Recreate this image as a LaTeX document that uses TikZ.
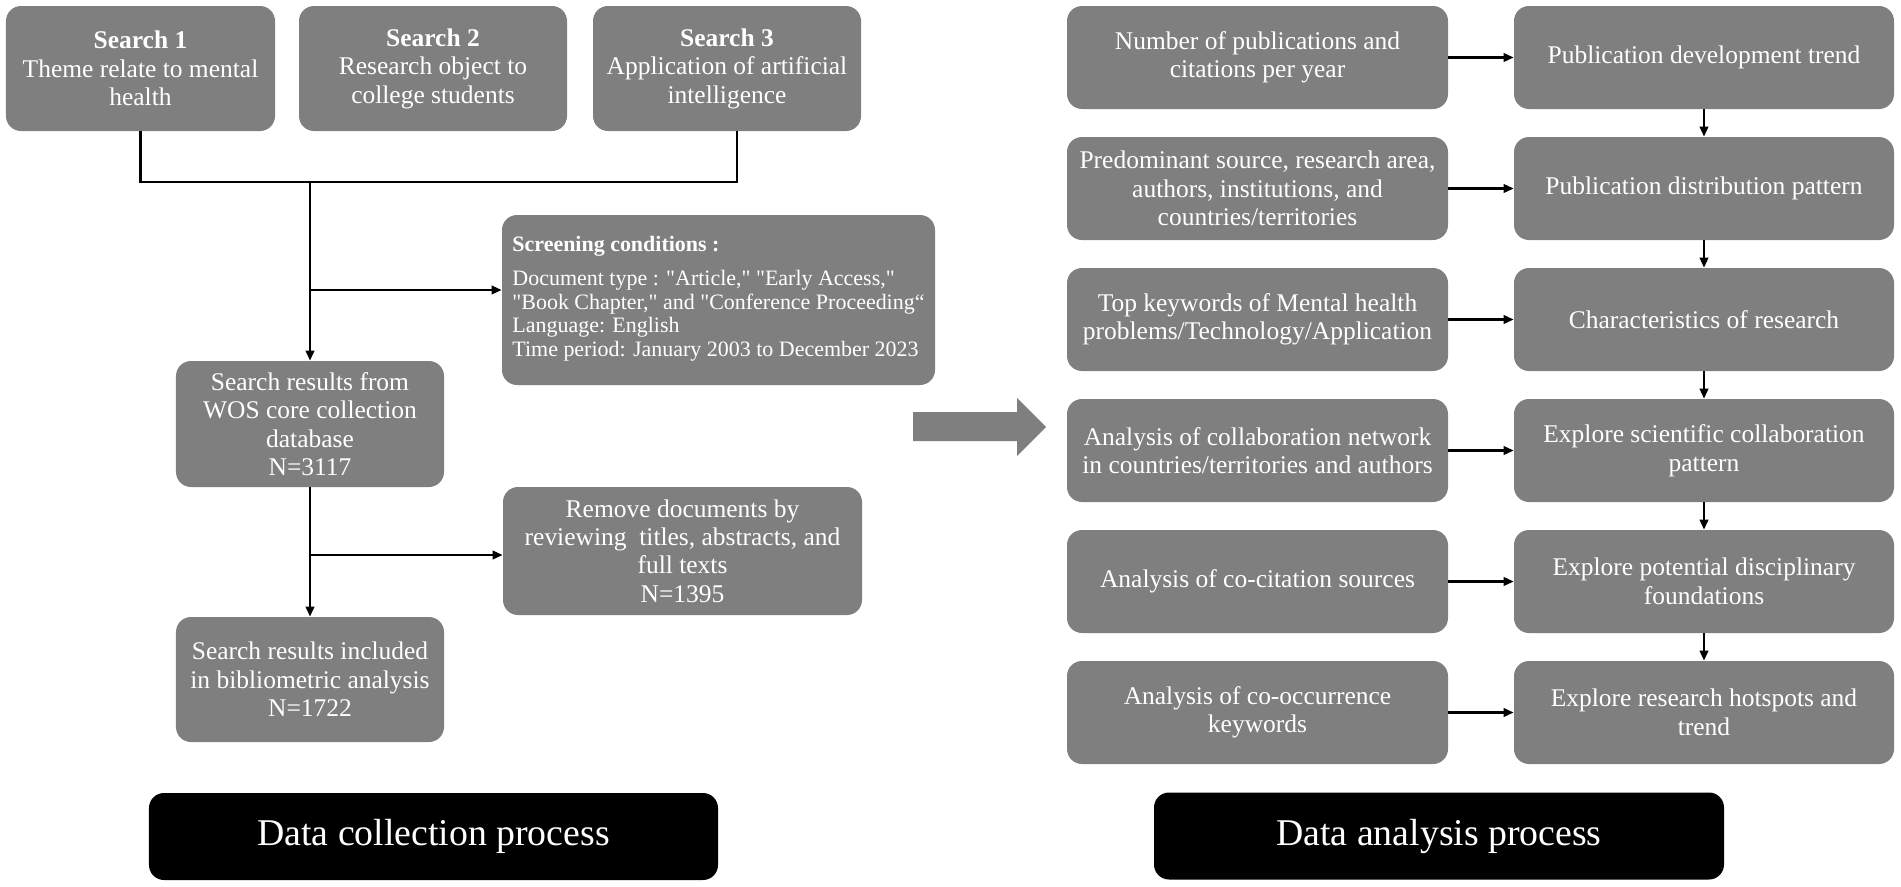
\documentclass[tikz,border=0pt]{standalone}
\usepackage{fontspec}
\setmainfont{Liberation Serif}[Ligatures=TeXOff]
\usetikzlibrary{arrows.meta}
\definecolor{boxgray}{RGB}{127,127,127}
\begin{document}
\begin{tikzpicture}[x=0.2mm, y=-0.2mm,
  gbox/.style={rectangle, rounded corners=3mm, fill=boxgray, text=white, align=center, inner sep=1mm, font=\fontsize{14.5}{16.2}\selectfont},
  kbox/.style={rectangle, rounded corners=3mm, fill=black, text=white, align=center, minimum width=114mm, minimum height=17.4mm, font=\fontsize{21.5}{25}\selectfont},
  link/.style={line width=0.45mm},
  arr/.style={line width=0.45mm, -{Triangle[length=2mm,width=1.7mm]}}]
\useasboundingbox (0,0) rectangle (1901,887);

% data collection
\node[gbox, minimum width=53.8mm, minimum height=25mm] (s1) at (140.5,68.5){\textbf{Search 1}\\Theme relate to mental\\health};
\node[gbox, minimum width=53.6mm, minimum height=25mm] (s2) at (433,68.5){\textbf{Search 2}\\Research object to\\college students};
\node[gbox, minimum width=53.6mm, minimum height=25mm] (s3) at (727,68.5){\textbf{Search 3}\\Application of artificial\\intelligence};
\node[gbox, minimum width=86.6mm, minimum height=34mm, align=left, font=\fontsize{12.5}{13.4}\selectfont] (scr) at (718.5,300){\textbf{Screening conditions :}\\[6pt]Document type : "Article," "Early Access,"\\"Book Chapter," and "Conference Proceeding“\\Language: English\\Time period: January 2003 to December 2023\rule[-4pt]{0pt}{4pt}};
\node[gbox, minimum width=53.6mm, minimum height=25.2mm] (wos) at (310,424){Search results from\\WOS core collection\\database\\N=3117};
\node[gbox, minimum width=71.8mm, minimum height=25.6mm] (rem) at (682.5,551){Remove documents by\\reviewing~ titles, abstracts, and\\full texts\\N=1395};
\node[gbox, minimum width=53.6mm, minimum height=25mm] (inc) at (310,679.5){Search results included\\in bibliometric analysis\\N=1722};
\node[kbox, minimum width=113.8mm] (col) at (433.5,836.5){Data collection process};
\coordinate (bus) at (310,182);
\coordinate (j1) at (310,290);
\coordinate (j2) at (310,555);
\draw[link](s1.south) |- (bus) -| ([xshift=2mm]s3.south);
\draw[arr](bus) -- (wos.north);
\draw[arr](j1) -- (j1 -| scr.west);
\draw[arr](wos.south) -- (inc.north);
\draw[arr](j2) -- (j2 -| rem.west);

% big arrow
\fill[boxgray] (913,412) -- (1017,412) -- (1017,398) -- (1046,427) -- (1017,456) -- (1017,441) -- (913,441) -- cycle;

% data analysis
\node[gbox, minimum width=76.2mm, minimum height=20.6mm] (a1) at (1257.5,57.5){Number of publications and\\citations per year};
\node[gbox, minimum width=76mm, minimum height=20.6mm] (b1) at (1704,57.5){Publication development trend};
\node[gbox, minimum width=76.2mm, minimum height=20.6mm] (a2) at (1257.5,188.5){Predominant source, research area,\\authors, institutions, and\\countries/territories};
\node[gbox, minimum width=76mm, minimum height=20.6mm] (b2) at (1704,188.5){Publication distribution pattern};
\node[gbox, minimum width=76.2mm, minimum height=20.6mm] (a3) at (1257.5,319.5){Top keywords of Mental health\\problems/Technology/Application};
\node[gbox, minimum width=76mm, minimum height=20.6mm] (b3) at (1704,319.5){Characteristics of research};
\node[gbox, minimum width=76.2mm, minimum height=20.6mm] (a4) at (1257.5,450.5){Analysis of collaboration network\\in countries/territories and authors};
\node[gbox, minimum width=76mm, minimum height=20.6mm] (b4) at (1704,450.5){Explore scientific collaboration\\pattern};
\node[gbox, minimum width=76.2mm, minimum height=20.6mm] (a5) at (1257.5,581.5){Analysis of co-citation sources};
\node[gbox, minimum width=76mm, minimum height=20.6mm] (b5) at (1704,581.5){Explore potential disciplinary\\foundations};
\node[gbox, minimum width=76.2mm, minimum height=20.6mm] (a6) at (1257.5,712.5){Analysis of co-occurrence\\keywords};
\node[gbox, minimum width=76mm, minimum height=20.6mm] (b6) at (1704,712.5){Explore research hotspots and\\trend};
\node[kbox] (ana) at (1439,836){Data analysis process};
\draw[arr](a1) -- (b1);
\draw[arr](a2) -- (b2);
\draw[arr](a3) -- (b3);
\draw[arr](a4) -- (b4);
\draw[arr](a5) -- (b5);
\draw[arr](a6) -- (b6);
\draw[arr](b1) -- (b2);
\draw[arr](b2) -- (b3);
\draw[arr](b3) -- (b4);
\draw[arr](b4) -- (b5);
\draw[arr](b5) -- (b6);

\end{tikzpicture}
\end{document}
